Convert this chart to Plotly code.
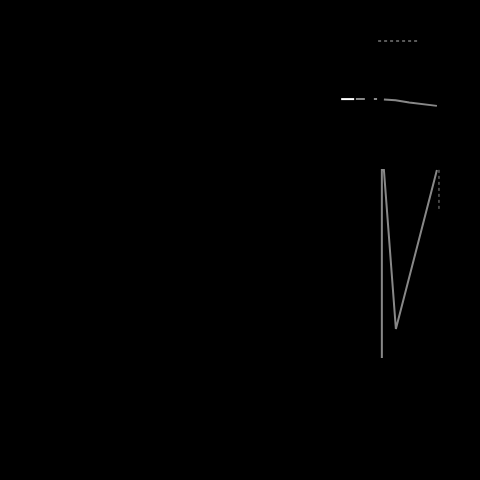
import plotly.graph_objects as go

# values read from the (almost entirely dark) reference
v_x = [83.0, 83.0, 83.6, 87.1, 99.1]
v_y = [7.8, 74.5, 74.5, 18.1, 74.5]

top_x = [83.6, 87.0, 91.0, 95.0, 99.1]
top_y = [99.5, 99.2, 98.4, 97.8, 97.2]

dash_x = [75.4, 81.6]
dash_y = [99.6, 99.6]

white_x = [71.1, 74.9]
white_y = [99.6, 99.6]

mark_x = [99.7, 99.7]
mark_y = [74.5, 59.6]

legend_x = [81.9, 93.9]
legend_y = [120.2, 120.2]

fig = go.Figure()
fig.add_trace(go.Scatter(x=v_x, y=v_y, mode="lines",
                         line=dict(color="#888888", width=2), showlegend=False))
fig.add_trace(go.Scatter(x=top_x, y=top_y, mode="lines",
                         line=dict(color="#888888", width=2), showlegend=False))
fig.add_trace(go.Scatter(x=dash_x, y=dash_y, mode="lines",
                         line=dict(color="#888888", width=2, dash="dash"), showlegend=False))
fig.add_trace(go.Scatter(x=white_x, y=white_y, mode="lines",
                         line=dict(color="#ffffff", width=2), showlegend=False))
fig.add_trace(go.Scatter(x=mark_x, y=mark_y, mode="lines",
                         line=dict(color="#888888", width=1, dash="dot"), showlegend=False))
fig.add_trace(go.Scatter(x=legend_x, y=legend_y, mode="lines",
                         line=dict(color="#777777", width=1.5, dash="dot"), showlegend=False))

fig.update_layout(
    width=480, height=480,
    margin=dict(l=98, r=40, t=30, b=100),
    paper_bgcolor="#000000", plot_bgcolor="#000000",
    font=dict(family="DejaVu Sans", color="#000000", size=11),
    xaxis=dict(range=[0, 100], showgrid=False, zeroline=False, showticklabels=False, showline=False),
    yaxis=dict(range=[0, 124.1], showgrid=False, zeroline=False, showticklabels=False, showline=False),
)
fig.write_html("out.html")
